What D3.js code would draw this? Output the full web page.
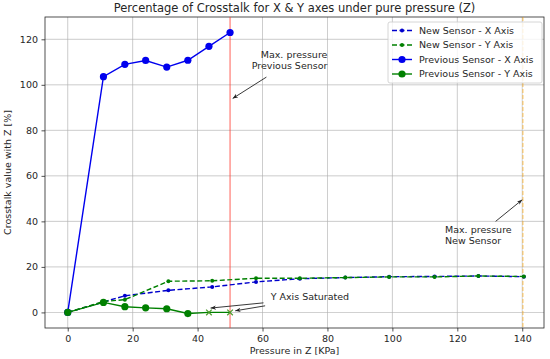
<!DOCTYPE html>
<html><head>
<meta charset="utf-8">
<script src="https://d3js.org/d3.v7.min.js"></script>
<style>
  body { margin: 0; background: #fff; }
  text { font-family: "DejaVu Sans", sans-serif; fill: #262626; }
  .tick text { font-size: 9.5px; }
</style>
</head>
<body>
<script>
// pressure steps (KPa)
var prevPressure = [0, 11, 17.6, 24, 30.5, 37, 43.5, 50];
var prevX = [0, 103.6, 109, 110.7, 107.8, 110.8, 116.9, 123];
var prevY = [0, 4.4, 2.5, 2, 1.6, -0.5, 0, 0];
var prevYSaturated = [false, false, false, false, false, false, true, true];

var newPressure = [0, 11, 17.6, 31, 44.5, 58, 71.5, 85.5, 99, 113, 126.5, 140.5];
var newX = [0, 4.6, 7.3, 9.7, 11.2, 13.4, 14.8, 15.3, 15.7, 15.8, 16, 15.7];
var newY = [0, 4.8, 5.6, 13.7, 13.9, 15, 15, 15.3, 15.6, 15.6, 16, 15.8];

var xTicks = [0, 20, 40, 60, 80, 100, 120, 140];
var yTicks = [0, 20, 40, 60, 80, 100, 120];

var W = 550, H = 359;
var m = {left: 45, right: 6, top: 17, bottom: 31};

var svg = d3.select("body").append("svg").attr("width", W).attr("height", H);

var x = d3.scaleLinear().domain([-7, 146.7]).range([m.left, W - m.right]);
var y = d3.scaleLinear().domain([-6.85, 129.8]).range([H - m.bottom, m.top]);

// grid
svg.append("g").selectAll("line").data(xTicks).join("line")
    .attr("x1", d => x(d)).attr("x2", d => x(d))
    .attr("y1", m.top).attr("y2", H - m.bottom)
    .attr("stroke", "#b0b0b0").attr("stroke-width", 0.8).attr("opacity", 0.8);
svg.append("g").selectAll("line").data(yTicks).join("line")
    .attr("y1", d => y(d)).attr("y2", d => y(d))
    .attr("x1", m.left).attr("x2", W - m.right)
    .attr("stroke", "#b0b0b0").attr("stroke-width", 0.8).attr("opacity", 0.8);

// axes
var xAxis = svg.append("g").attr("transform", "translate(0," + (H - m.bottom) + ")")
    .call(d3.axisBottom(x).tickValues(xTicks).tickSize(3.5).tickPadding(3.5));
var yAxis = svg.append("g").attr("transform", "translate(" + m.left + ",0)")
    .call(d3.axisLeft(y).tickValues(yTicks).tickSize(3.5).tickPadding(3.5));
[xAxis, yAxis].forEach(function(a) {
  a.select(".domain").remove();
  a.selectAll(".tick line").attr("stroke", "#262626").attr("stroke-width", 0.8);
});

svg.append("rect").attr("x", m.left).attr("y", m.top)
    .attr("width", W - m.left - m.right).attr("height", H - m.top - m.bottom)
    .attr("fill", "none").attr("stroke", "#262626").attr("stroke-width", 0.8);

// max pressure markers
svg.append("line").attr("x1", x(50)).attr("x2", x(50)).attr("y1", m.top).attr("y2", H - m.bottom)
    .attr("stroke", "#ff3b30").attr("stroke-width", 1).attr("opacity", 0.8);
svg.append("line").attr("x1", x(140.2)).attr("x2", x(140.2)).attr("y1", m.top).attr("y2", H - m.bottom)
    .attr("stroke", "#ffa500").attr("stroke-width", 1.2).attr("stroke-dasharray", "4,2").attr("opacity", 0.55);

var line = d3.line();

function series(px, py, color, dash, r) {
  var pts = px.map((p, i) => [x(p), y(py[i])]);
  svg.append("path").attr("d", line(pts)).attr("fill", "none")
      .attr("stroke", color).attr("stroke-width", 1.4)
      .attr("stroke-dasharray", dash);
  return pts;
}

// new sensor (dashed)
series(newPressure, newX, "#0000cc", "5,2.5", 2);
svg.append("g").selectAll("circle").data(newPressure).join("circle")
    .attr("cx", d => x(d)).attr("cy", (d, i) => y(newX[i])).attr("r", 2).attr("fill", "#0000cc");
series(newPressure, newY, "#008000", "5,2.5", 2);
svg.append("g").selectAll("circle").data(newPressure).join("circle")
    .attr("cx", d => x(d)).attr("cy", (d, i) => y(newY[i])).attr("r", 2).attr("fill", "#008000");

// previous sensor (solid)
series(prevPressure, prevX, "#0000ee", null, 3.5);
svg.append("g").selectAll("circle").data(prevPressure).join("circle")
    .attr("cx", d => x(d)).attr("cy", (d, i) => y(prevX[i])).attr("r", 3.6).attr("fill", "#0000ee");
series(prevPressure, prevY, "#008000", null, 3.5);
svg.append("g").selectAll("circle").data(prevPressure.filter((d, i) => !prevYSaturated[i])).join("circle")
    .attr("cx", d => x(d)).attr("cy", d => y(prevY[prevPressure.indexOf(d)])).attr("r", 3.6).attr("fill", "#008000");
var sat = svg.append("g").attr("stroke", "#4a9a2a").attr("stroke-width", 1.2);
prevPressure.forEach(function(p, i) {
  if (!prevYSaturated[i]) return;
  var cx = x(p), cy = y(prevY[i]), s = 2.8;
  sat.append("line").attr("x1", cx - s).attr("y1", cy - s).attr("x2", cx + s).attr("y2", cy + s);
  sat.append("line").attr("x1", cx - s).attr("y1", cy + s).attr("x2", cx + s).attr("y2", cy - s);
});

// annotations
var defs = svg.append("defs");
defs.append("marker").attr("id", "ah").attr("viewBox", "0 0 10 10").attr("refX", 10).attr("refY", 5)
    .attr("markerWidth", 6).attr("markerHeight", 6).attr("orient", "auto")
    .append("path").attr("d", "M0,1 L10,5 L0,9 L3,5 z").attr("fill", "#222");

function arrow(x1, y1, x2, y2) {
  svg.append("line").attr("x1", x(x1)).attr("y1", y(y1)).attr("x2", x(x2)).attr("y2", y(y2))
      .attr("stroke", "#222").attr("stroke-width", 0.9).attr("marker-end", "url(#ah)");
}
function label(lines, px, py, anchor) {
  var t = svg.append("text").attr("font-size", 9.5).attr("text-anchor", anchor);
  lines.forEach(function(s, i) {
    t.append("tspan").attr("x", x(px)).attr("y", y(py) + i * 11).text(s);
  });
}

label(["Max. pressure", "Previous Sensor"], 80, 112, "end");
arrow(61.2, 103.4, 50.8, 94);
label(["Max. pressure", "New Sensor"], 116.2, 35, "start");
arrow(131.8, 40, 140, 49.5);
label(["Y Axis Saturated"], 62.5, 5.5, "start");
arrow(60.3, 4.2, 44, 1.9);
arrow(60.8, 2.9, 51.6, 0.7);

// legend
var legItems = [
  {name: "New Sensor - X Axis", color: "#0000cc", dash: "5,2.5", r: 2},
  {name: "New Sensor - Y Axis", color: "#008000", dash: "5,2.5", r: 2},
  {name: "Previous Sensor - X Axis", color: "#0000ee", dash: null, r: 3.6},
  {name: "Previous Sensor - Y Axis", color: "#008000", dash: null, r: 3.6}
];
var leg = svg.append("g").attr("transform", "translate(388,22)");
leg.append("rect").attr("width", 154).attr("height", 61).attr("rx", 2)
    .attr("fill", "white").attr("fill-opacity", 0.8).attr("stroke", "#cccccc").attr("stroke-width", 0.8);
legItems.forEach(function(d, i) {
  var g = leg.append("g").attr("transform", "translate(0," + (8.5 + i * 14.5) + ")");
  g.append("line").attr("x1", 4).attr("x2", 24).attr("stroke", d.color).attr("stroke-width", 1.4)
      .attr("stroke-dasharray", d.dash);
  g.append("circle").attr("cx", 14).attr("r", d.r).attr("fill", d.color);
  g.append("text").attr("x", 31).attr("y", 3.4).attr("font-size", 9.5).text(d.name);
});

// titles
svg.append("text").attr("x", (m.left + W - m.right) / 2).attr("y", 12).attr("text-anchor", "middle")
    .attr("font-size", 11.5).text("Percentage of Crosstalk for X & Y axes under pure pressure (Z)");
svg.append("text").attr("x", (m.left + W - m.right) / 2).attr("y", 354).attr("text-anchor", "middle")
    .attr("font-size", 9.5).text("Pressure in Z [KPa]");
svg.append("text").attr("transform", "translate(11," + ((m.top + H - m.bottom) / 2) + ") rotate(-90)")
    .attr("text-anchor", "middle").attr("font-size", 9.5).text("Crosstalk value with Z [%]");
</script>
</body></html>
